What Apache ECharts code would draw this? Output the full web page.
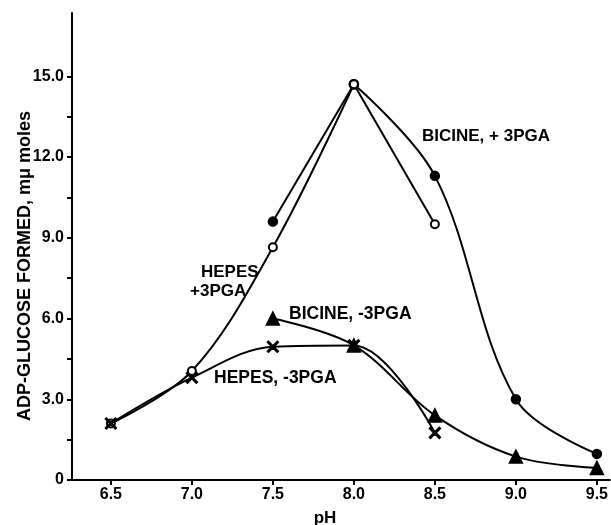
<!DOCTYPE html>
<html>
<head>
<meta charset="utf-8">
<script src="https://cdn.jsdelivr.net/npm/echarts@6/dist/echarts.min.js"></script>
<style>
  html, body { margin: 0; padding: 0; background: #fff; }
  #main { width: 611px; height: 525px; }
</style>
</head>
<body>
<div id="main"></div>
<script>
// pH values and ADP-glucose formed (mμ moles)
const phBicinePlus = [7.5, 8.0, 8.5, 9.0, 9.5]
const bicinePlus = [9.6, 14.7, 11.3, 3.0, 0.97]
const phHepesPlus = [6.5, 7.0, 7.5, 8.0, 8.5]
const hepesPlus = [2.1, 4.05, 8.65, 14.7, 9.5]
const phBicineMinus = [7.5, 8.0, 8.5, 9.0, 9.5]
const bicineMinus = [6.0, 5.0, 2.4, 0.87, 0.45]
const phHepesMinus = [6.5, 7.0, 7.5, 8.0, 8.5]
const hepesMinus = [2.1, 3.8, 4.95, 5.0, 1.75]

// axis ticks
const xTicks = [6.5, 7.0, 7.5, 8.0, 8.5, 9.0, 9.5]
const yLabels = [0, 3, 6, 9, 12, 15]
const yTicks = [0, 1.5, 3, 4.5, 6, 7.5, 9, 10.5, 12, 13.5, 15]

const FONT = '"Liberation Sans", Arial, sans-serif'
const CROSS = 'path://M0,1L1,0L5,4L9,0L10,1L6,5L10,9L9,10L5,6L1,10L0,9L4,5Z'

function pairs(xs, ys) {
  return xs.map((x, i) => [x, ys[i]])
}

// split a curve at its maximum so the peak stays pointed
function splitAtPeak(xs, ys) {
  const k = ys.indexOf(Math.max(...ys))
  const all = pairs(xs, ys)
  return [all.slice(0, k + 1), all.slice(k)]
}

function lineSeries(name, data, symbol, size, extra) {
  return Object.assign({
    name: name,
    type: 'line',
    data: data,
    smooth: 0.35,
    symbol: symbol,
    symbolSize: size,
    showAllSymbol: true,
    lineStyle: { color: '#000', width: 2 },
    itemStyle: { color: '#000', borderColor: '#000', borderWidth: 1.5 }
  }, extra || {})
}

function label(text, x, y, size) {
  return {
    type: 'text', x: x, y: y,
    style: { text: text, font: 'bold ' + size + 'px ' + FONT, fill: '#000', align: 'left', verticalAlign: 'middle' }
  }
}

function drawChart() {
  var chartDom = document.getElementById('main')
  var myChart = echarts.init(chartDom)
  var option

  const bp = splitAtPeak(phBicinePlus, bicinePlus)
  const hp = splitAtPeak(phHepesPlus, hepesPlus)

  option = {
    animation: false,
    backgroundColor: '#fff',
    grid: { left: 72, right: 0, top: 13, bottom: 45 },
    xAxis: {
      type: 'value',
      min: 6.26,
      max: 9.58,
      axisLine: { lineStyle: { color: '#000', width: 2 } },
      axisTick: { customValues: xTicks, length: 5, lineStyle: { color: '#000', width: 2 } },
      axisLabel: {
        customValues: xTicks,
        margin: 7,
        color: '#000',
        fontFamily: FONT,
        fontWeight: 'bold',
        fontSize: 16,
        formatter: v => v.toFixed(1)
      },
      splitLine: { show: false }
    },
    yAxis: {
      type: 'value',
      min: 0,
      max: 17.35,
      axisLine: { show: true, lineStyle: { color: '#000', width: 2 } },
      axisTick: { show: true, customValues: yTicks, length: 5, lineStyle: { color: '#000', width: 2 } },
      axisLabel: {
        customValues: yLabels,
        margin: 8,
        color: '#000',
        fontFamily: FONT,
        fontWeight: 'bold',
        fontSize: 16,
        formatter: v => v === 0 ? '0' : v.toFixed(1)
      },
      splitLine: { show: false }
    },
    graphic: [
      {
        type: 'text', x: 25, y: 266, rotation: Math.PI / 2,
        style: { text: 'ADP-GLUCOSE FORMED, mμ moles', font: 'bold 18px ' + FONT, fill: '#000', align: 'center', verticalAlign: 'middle' }
      },
      {
        type: 'text', x: 325, y: 518,
        style: { text: 'pH', font: 'bold 17px ' + FONT, fill: '#000', align: 'center', verticalAlign: 'middle' }
      },
      label('BICINE, + 3PGA', 422, 136, 17),
      label('BICINE, -3PGA', 289, 314, 17.5),
      label('HEPES, -3PGA', 214, 378, 17.5),
      label('HEPES', 201, 272, 17),
      label('+3PGA', 190, 291, 17)
    ],
    series: [
      lineSeries('BICINE, +3PGA', bp[0], 'circle', 9),
      lineSeries('BICINE, +3PGA', bp[1], 'circle', 9),
      lineSeries('BICINE, -3PGA', pairs(phBicineMinus, bicineMinus), 'triangle', 13),
      lineSeries('HEPES, +3PGA', hp[0], 'emptyCircle', 8, { itemStyle: { color: '#000', borderColor: '#000', borderWidth: 2 } }),
      lineSeries('HEPES, +3PGA', hp[1], 'emptyCircle', 8, { itemStyle: { color: '#000', borderColor: '#000', borderWidth: 2 } }),
      lineSeries('HEPES, -3PGA', pairs(phHepesMinus, hepesMinus), CROSS, 11)
    ]
  }

  option && myChart.setOption(option)
}

drawChart()
</script>
</body>
</html>
